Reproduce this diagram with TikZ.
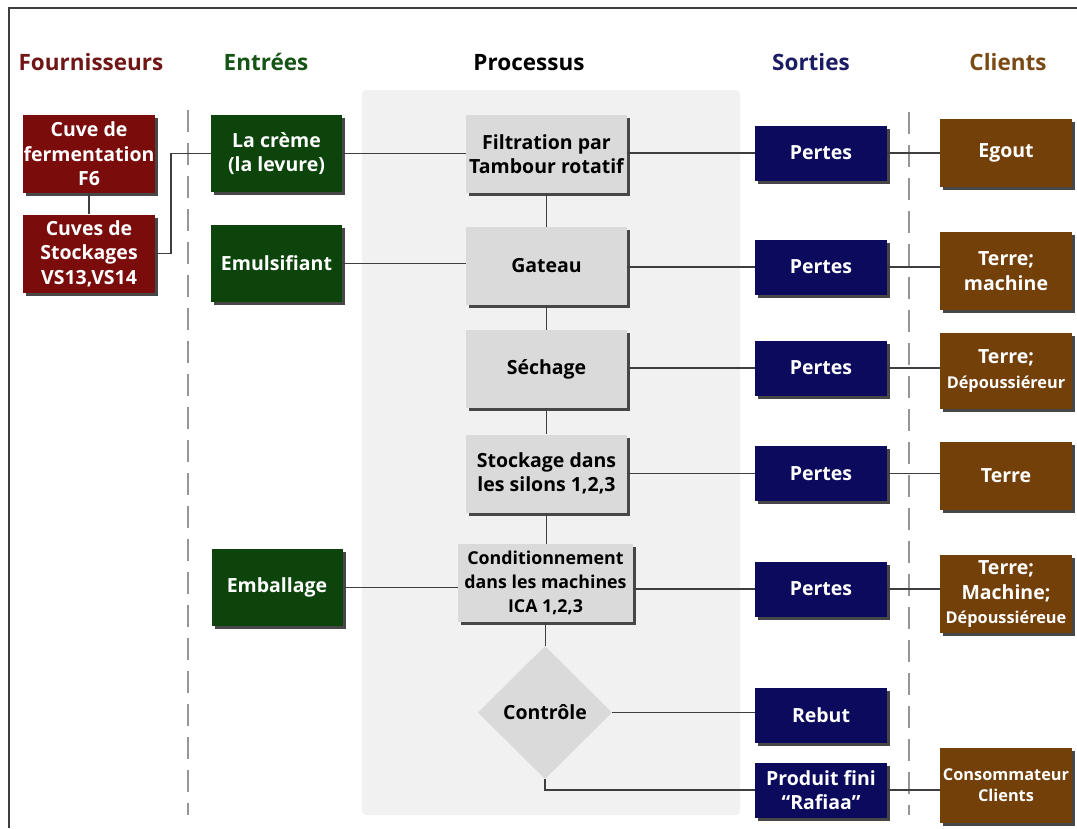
\documentclass[tikz,border=0pt]{standalone}
\usepackage{fontspec}
\setmainfont{Open Sans}
\usetikzlibrary{shapes.geometric,shadows}

\definecolor{supred}{RGB}{122,12,12}
\definecolor{inpgreen}{RGB}{12,68,12}
\definecolor{outnavy}{RGB}{12,10,92}
\definecolor{clibrown}{RGB}{116,64,10}
\definecolor{hdred}{RGB}{112,22,22}
\definecolor{hdgreen}{RGB}{22,84,22}
\definecolor{hdnavy}{RGB}{28,28,100}
\definecolor{hdbrown}{RGB}{122,74,22}
\definecolor{panelgray}{RGB}{241,241,241}
\definecolor{procgray}{RGB}{218,218,218}
\definecolor{linegray}{RGB}{62,62,62}
\definecolor{sepgray}{RGB}{150,150,150}

\tikzset{
  boxtext/.style={font=\bfseries\fontsize{19.5}{24.5}\selectfont},
  basebox/.style={rectangle, inner sep=1pt, align=center, boxtext,
    drop shadow={fill=black!72, opacity=1, shadow xshift=3pt, shadow yshift=-3pt}},
  supbox/.style={basebox, fill=supred, text=white, minimum width=132pt, minimum height=78pt},
  inpbox/.style={basebox, fill=inpgreen, text=white, minimum width=131pt, minimum height=77pt},
  procbox/.style={basebox, fill=procgray, text=black, minimum width=161pt, minimum height=78pt},
  outbox/.style={basebox, fill=outnavy, text=white, minimum width=132pt, minimum height=55pt},
  clibox/.style={basebox, fill=clibrown, text=white, minimum width=132pt, minimum height=76pt},
  decision/.style={diamond, fill=procgray, inner sep=0pt, minimum width=134pt,
    minimum height=133pt, boxtext},
  header/.style={anchor=base, font=\bfseries\fontsize{22.5}{26}\selectfont},
  conn/.style={draw=linegray, line width=1.2pt},
  separator/.style={draw=sepgray, line width=2.4pt, dash pattern=on 22pt off 11pt},
  frameline/.style={draw=linegray, line width=1.5pt},
  panel/.style={rectangle, fill=panelgray, rounded corners=4pt, inner sep=0pt,
    minimum width=378pt, minimum height=725pt},
  smalltext/.style={font=\bfseries\fontsize{16.3}{21}\selectfont}
}

\begin{document}
\begin{tikzpicture}[x=1pt,y=-1pt]
\useasboundingbox (0,0) rectangle (1077,828);

% outer frame (top and left edges)
\draw[frameline] (9,828) -- (9,8) -- (1077,8);

% shaded band behind the process column
\node[panel] (band) at (551,452.5) {};

% column separators
\coordinate (sepAtop) at (188,110);
\coordinate (sepAbot) at (188,815);
\coordinate (sepBtop) at (909,112);
\coordinate (sepBbot) at (909,815);
\draw[separator] (sepAtop) -- (sepAbot);
\draw[separator] (sepBtop) -- (sepBbot);

% column headings
\node[header, text=hdred]   (hFour) at (91,70)   {Fournisseurs};
\node[header, text=hdgreen] (hEntr) at (266,70)  {Entrées};
\node[header, text=black]   (hProc) at (529,70)  {Processus};
\node[header, text=hdnavy]  (hSort) at (811,70)  {Sorties};
\node[header, text=hdbrown] (hCli)  at (1008,70) {Clients};

% suppliers
\node[supbox] (f6)    at (89,154)   {Cuve de\\fermentation\\F6};
\node[supbox] (cuves) at (89,253.5) {Cuves de\\Stockages\\VS13,VS14};

% inputs
\node[inpbox] (creme) at (276.5,153.5) {La crème\\(la levure)};
\node[inpbox] (emul)  at (276.5,263.5) {Emulsifiant};
\node[inpbox] (emb)   at (277,587.5)   {Emballage};

% process chain
\node[procbox] (filt)  at (546.5,154) {Filtration par\\Tambour rotatif};
\node[procbox] (gat)   at (546.5,266) {Gateau};
\node[procbox] (sech)  at (546.5,369) {Séchage};
\node[procbox] (stock) at (546.5,473.5) {Stockage dans\\les silons 1,2,3};
\node[procbox, minimum width=175pt, font=\bfseries\fontsize{17.8}{24}\selectfont] (cond) at (545.5,583) {Conditionnement\\dans les machines\\ICA 1,2,3};
\node[decision] (ctrl) at (545,712.5) {Contrôle};

% outputs
\node[outbox] (p1)    at (821,153)   {Pertes};
\node[outbox] (p2)    at (821,267)   {Pertes};
\node[outbox] (p3)    at (821,368)   {Pertes};
\node[outbox] (p4)    at (821,473.5) {Pertes};
\node[outbox] (p5)    at (821,589)   {Pertes};
\node[outbox] (rebut) at (821,715)   {Rebut};
\node[outbox] (prod)  at (821,790)   {Produit fini\\“Rafiaa”};

% clients
\node[clibox, minimum height=68pt] (egout) at (1006,153) {Egout};
\node[clibox, minimum height=78pt] (c2) at (1006,271) {Terre;\\machine};
\node[clibox] (c3) at (1006,371) {Terre;\\{\fontsize{16.3}{21}\selectfont Dépoussiéreur}};
\node[clibox, minimum height=68pt] (c4) at (1006,476) {Terre};
\node[clibox, minimum height=78pt] (c5) at (1006,594) {Terre;\\Machine;\\{\fontsize{16.3}{21}\selectfont Dépoussiéreue}};
\node[clibox, minimum height=75pt, smalltext] (c6) at (1006,785) {Consommateur\\Clients};

% supplier links
\coordinate (jog) at (171,200);
\draw[conn] (f6.south) -- (cuves.north);
\draw[conn] (cuves.east) -- (cuves.east -| jog) -- (jog |- creme.west) -- (creme.west);

% inputs into the process
\draw[conn] (creme.east) -- (creme.east -| filt.west);
\draw[conn] (emul.east)  -- (emul.east -| gat.west);
\draw[conn] (emb.east)   -- (emb.east -| cond.west);

% main chain
\draw[conn] (filt.south)  -- (gat.north);
\draw[conn] (gat.south)   -- (sech.north);
\draw[conn] (sech.south)  -- (stock.north);
\draw[conn] (stock.south) -- (stock.south |- cond.north);
\draw[conn] (cond.south)  -- (cond.south |- ctrl.north);

% process to outputs
\draw[conn] (p1.west -| filt.east)  -- (p1.west);
\draw[conn] (p2.west -| gat.east)   -- (p2.west);
\draw[conn] (p3.west -| sech.east)  -- (p3.west);
\draw[conn] (p4.west -| stock.east) -- (p4.west);
\draw[conn] (p5.west -| cond.east)  -- (p5.west);
\draw[conn] (ctrl.east) -- (ctrl.east -| rebut.west);
\draw[conn] (ctrl.south) |- (prod.west);

% outputs to clients
\draw[conn] (p1.east)   -- (p1.east -| egout.west);
\draw[conn] (p2.east)   -- (p2.east -| c2.west);
\draw[conn] (p3.east)   -- (p3.east -| c3.west);
\draw[conn] (p4.east)   -- (p4.east -| c4.west);
\draw[conn] (p5.east)   -- (p5.east -| c5.west);
\draw[conn] (prod.east) -- (prod.east -| c6.west);
\end{tikzpicture}
\end{document}
